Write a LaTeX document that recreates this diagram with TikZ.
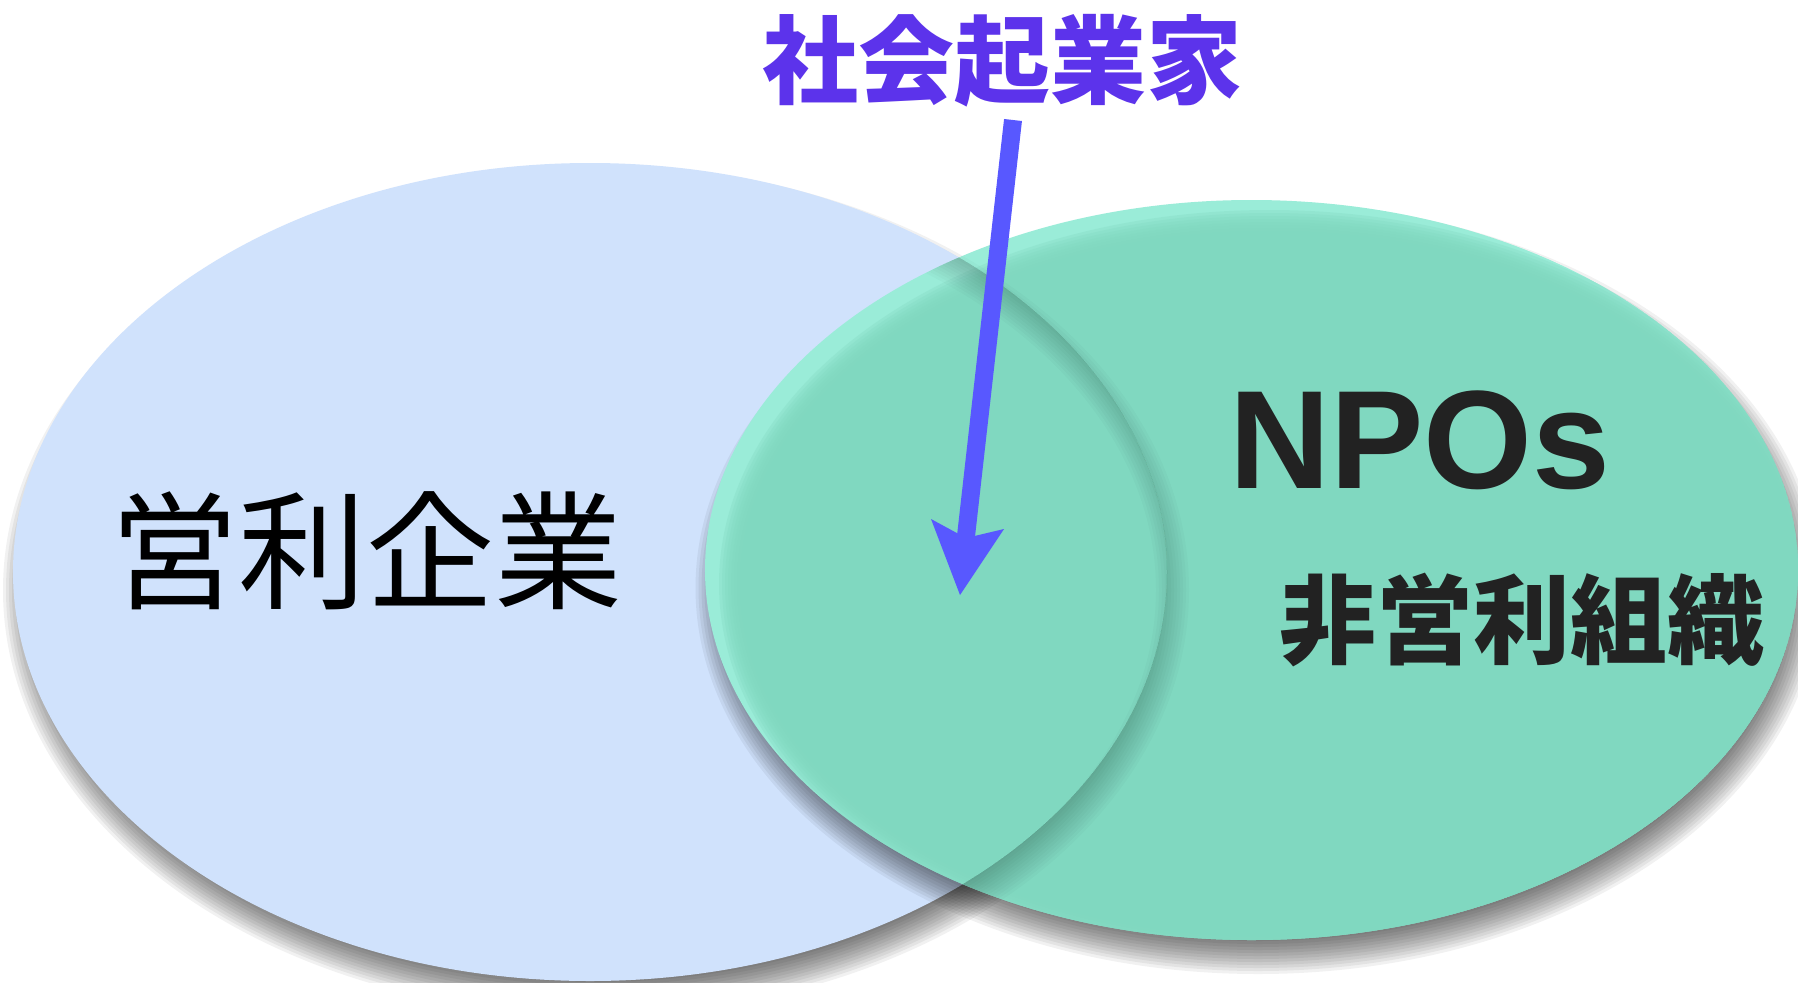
\documentclass[tikz,border=0pt]{standalone}
\usepackage{fontspec}
\newfontfamily\cjk{Noto Sans CJK JP}
\newfontfamily\npofont{Liberation Sans}
\definecolor{leftc}{HTML}{D0E2FC}
\definecolor{rmain}{HTML}{80D8C0}
\definecolor{rlight}{HTML}{9AECD8}
\definecolor{titlec}{HTML}{5C33EB}
\definecolor{arrowc}{HTML}{5858FF}
\definecolor{textc}{HTML}{222222}
\tikzset{
  shadowlayer/.style={fill=black, opacity=0.055},
  label/.style={anchor=base, inner sep=0pt, text=textc},
}
\begin{document}
\begin{tikzpicture}[x=1pt,y=-1pt]
\useasboundingbox (0,0) rectangle (1798,982);
\fill[white] (0,0) rectangle (1798,982);
% left ellipse shadow + fill
\foreach \k in {0,...,11}
  \fill[shadowlayer] (596,590) ellipse [x radius={577+16-3*\k}, y radius={409+16-3*\k}];
\fill[leftc] (590,572) ellipse [x radius=577, y radius=409];
% right ellipse shadow
\foreach \k in {0,...,11}
  \fill[shadowlayer] (1258,588) ellipse [x radius={546.5+16-3*\k}, y radius={370+16-3*\k}];
% right ellipse with inner glow
\begin{scope}
  \clip (1251.5,570) ellipse [x radius=546.5, y radius=370];
  \fill[rlight] (1251.5,570) ellipse [x radius=546.5, y radius=370];
  \foreach \k in {0,...,9}
    \fill[rmain, opacity=0.3] (1269.5,584) ellipse [x radius={546.5+4-3*\k}, y radius={370+4-3*\k}];
  % left shadow seen through
  \foreach \k in {0,...,11}
    \fill[black, opacity=0.018, even odd rule] (596,590) ellipse [x radius={577+16-3*\k}, y radius={409+16-3*\k}]
      (590,572) ellipse [x radius=577, y radius=409];
\end{scope}
% texts
\node[label, text=titlec, font=\cjk\bfseries\fontsize{96}{96}\selectfont] (title) at (1002,96) {社会起業家};
\node[label, text=black, font=\cjk\fontsize{128}{128}\selectfont] (corp) at (366,599) {営利企業};
\node[label, font=\npofont\bfseries\fontsize{140}{140}\selectfont] (npo) at (1420,488) {NPOs};
\node[label, font=\cjk\bfseries\fontsize{97}{97}\selectfont] (npoj) at (1522,656) {非営利組織};
% arrow
\coordinate (atop) at (1013,120);
\coordinate (ashaft) at (965,545);
\coordinate (notch) at (966,538);
\coordinate (tip) at (960,595);
\coordinate (barbL) at (931,519);
\coordinate (barbR) at (1004,529);
\draw[arrowc, line width=18pt] (atop) -- (ashaft);
\fill[arrowc] (tip) -- (barbL) -- (notch) -- (barbR) -- cycle;
\end{tikzpicture}
\end{document}
